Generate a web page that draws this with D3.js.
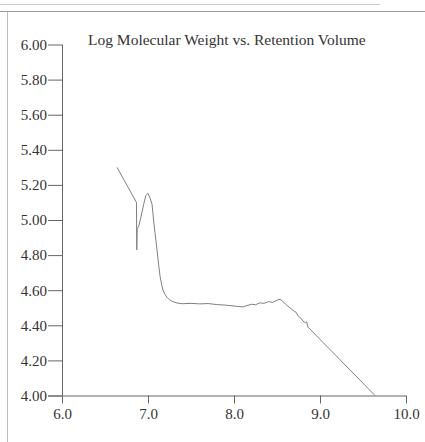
<!DOCTYPE html>
<html>
<head>
<meta charset="utf-8">
<script src="https://cdn.jsdelivr.net/npm/d3@7"></script>
<style>
html,body{margin:0;padding:0;background:#fff;}
svg{display:block;}
text{font-family:"Liberation Serif","Times New Roman",serif;fill:#333;}
.tick text{font-size:15px;}
</style>
</head>
<body>
<svg id="chart" width="425" height="442"></svg>
<script>
const title = "Log Molecular Weight vs. Retention Volume";
const xTicks = [6.0, 7.0, 8.0, 9.0, 10.0];
const yTicks = [4.0, 4.2, 4.4, 4.6, 4.8, 5.0, 5.2, 5.4, 5.6, 5.8, 6.0];
const retentionVolume = [6.64, 6.866, 6.869, 6.875, 6.895, 6.92, 6.95, 6.975, 7.0, 7.02, 7.047, 7.065, 7.081, 7.105, 7.125, 7.14, 7.16, 7.174, 7.2, 7.22, 7.25, 7.28, 7.337, 7.4, 7.5, 7.6, 7.7, 7.8, 7.9, 8.0, 8.05, 8.1, 8.15, 8.2, 8.25, 8.3, 8.35, 8.4, 8.45, 8.5, 8.535, 8.56, 8.6, 8.65, 8.7, 8.72, 8.75, 8.78, 8.8, 8.83, 8.845, 8.86, 9.64];
const logMW = [5.30, 5.10, 4.83, 4.95, 4.97, 5.02, 5.09, 5.14, 5.152, 5.13, 5.09, 5.00, 4.93, 4.83, 4.74, 4.68, 4.63, 4.60, 4.575, 4.56, 4.545, 4.537, 4.527, 4.523, 4.525, 4.522, 4.524, 4.518, 4.515, 4.51, 4.507, 4.505, 4.512, 4.52, 4.517, 4.528, 4.525, 4.535, 4.53, 4.543, 4.548, 4.54, 4.52, 4.50, 4.48, 4.475, 4.45, 4.44, 4.425, 4.415, 4.42, 4.39, 4.00];

const svg = d3.select("#chart");

// page frame lines
svg.append("line").attr("x1",0).attr("x2",380).attr("y1",4.5).attr("y2",4.5).attr("stroke","#c8c8c8").attr("stroke-width",1);
svg.append("line").attr("x1",0).attr("x2",425).attr("y1",11.5).attr("y2",11.5).attr("stroke","#9a9a9a").attr("stroke-width",1);
svg.append("line").attr("x1",7.5).attr("x2",7.5).attr("y1",11.5).attr("y2",442).attr("stroke","#bdbdbd").attr("stroke-width",1);

const x = d3.scaleLinear().domain([6, 10]).range([62, 406]);
const y = d3.scaleLinear().domain([4, 6]).range([395.5, 44.5]);

// x axis
const xAxis = svg.append("g").attr("transform","translate(0,395.5)")
  .call(d3.axisBottom(x).tickValues(xTicks).tickFormat(d3.format(".1f")).tickSize(8).tickPadding(5));
xAxis.attr("font-size", 15);
xAxis.select(".domain").attr("d", `M48,0.5H${x(10)}`).attr("stroke","#666");
xAxis.selectAll(".tick line").attr("stroke","#666");
xAxis.selectAll(".tick text").attr("fill","#333");

// y axis
const yAxis = svg.append("g").attr("transform","translate(62,0)")
  .call(d3.axisLeft(y).tickValues(yTicks).tickFormat(d3.format(".2f")).tickSize(14).tickPadding(1));
yAxis.attr("font-size", 15);
yAxis.select(".domain").attr("d", `M0.5,${y(6)}V${y(4)}`).attr("stroke","#666");
yAxis.selectAll(".tick line").attr("stroke","#666");
yAxis.selectAll(".tick text").attr("fill","#333");

// title
svg.append("text").attr("x", 88).attr("y", 45).style("font-size","15.5px").attr("fill","#333").text(title);

// curve
const data = retentionVolume.map((v,i)=>({x:v, y:logMW[i]}));
svg.append("path").datum(data)
  .attr("fill","none").attr("stroke","#808080").attr("stroke-width",1)
  .attr("d", d3.line().x(d=>x(d.x)).y(d=>y(d.y)));
</script>
</body>
</html>
